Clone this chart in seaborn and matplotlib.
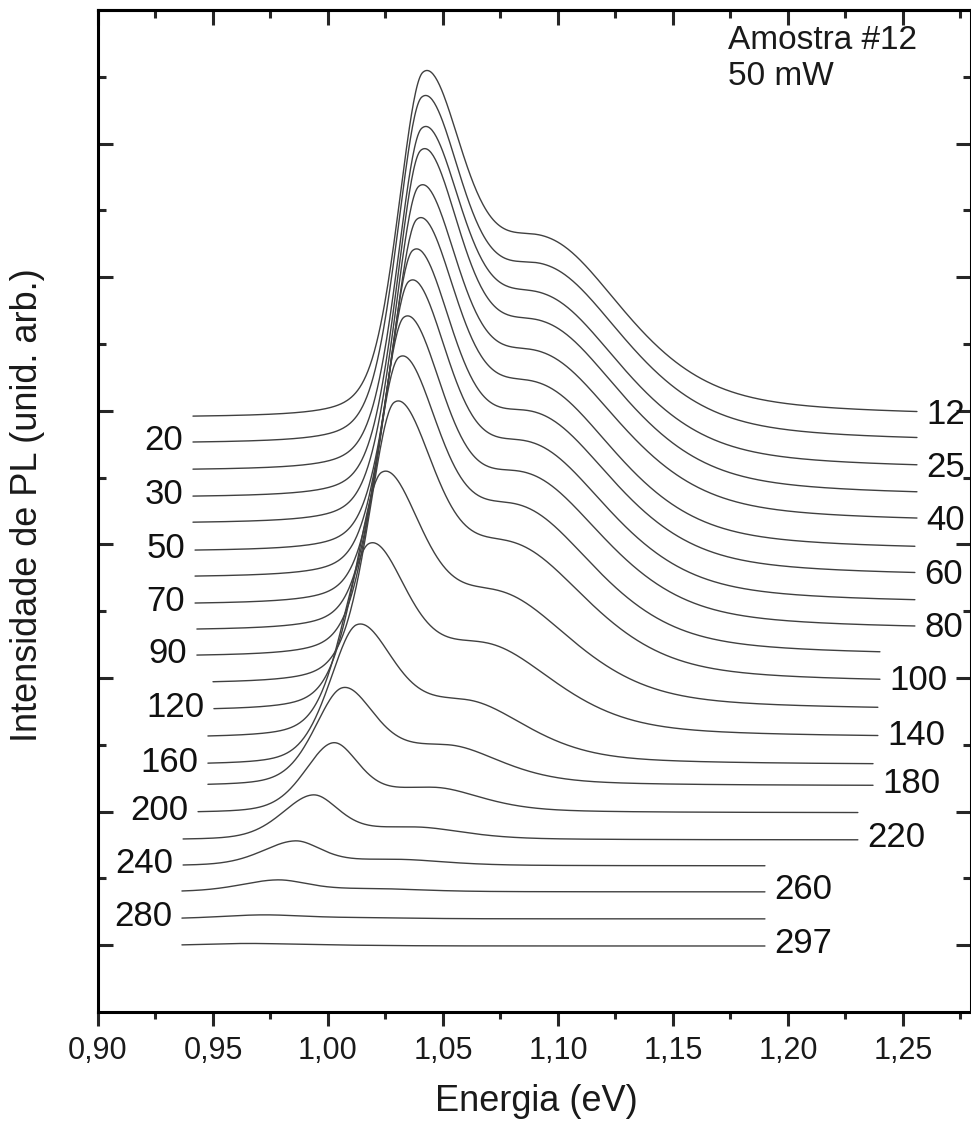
import numpy as np
import pandas as pd
import matplotlib
matplotlib.use('Agg')
import matplotlib.pyplot as plt
import seaborn as sns

# Temperatures (K) of the stacked PL spectra, top to bottom
temps = [12, 20, 25, 30, 40, 50, 60, 70, 80, 90, 100,
         120, 140, 160, 180, 200, 220, 240, 260, 280, 297]

# Vertical offset of each spectrum (arb. units)
baseline = [4.449, 4.255, 4.052, 3.850, 3.655, 3.446, 3.251, 3.049, 2.854, 2.659, 2.457,
            2.255, 2.052, 1.850, 1.693, 1.491, 1.288, 1.094, 0.899, 0.697, 0.494]

# Energy range covered by each spectrum (eV)
e_start = [0.9413, 0.9413, 0.9413, 0.9413, 0.9413, 0.9422, 0.9422, 0.9422, 0.9430, 0.9430, 0.9500,
           0.9504, 0.9478, 0.9478, 0.9478, 0.9435, 0.9370, 0.9370, 0.9365, 0.9365, 0.9365]
e_end = [1.2561, 1.2561, 1.2561, 1.2561, 1.2561, 1.2552, 1.2552, 1.2552, 1.2552, 1.2400, 1.2400,
         1.2391, 1.2391, 1.2370, 1.2370, 1.2304, 1.2304, 1.1900, 1.1900, 1.1900, 1.1900]

# Main PL peak: position (eV), height above baseline, half widths (eV)
peak_e = [1.0412, 1.0407, 1.0407, 1.0403, 1.0394, 1.0386, 1.0368, 1.0351, 1.0329, 1.0307, 1.0287,
          1.0232, 1.0177, 1.0125, 1.0062, 1.0020, 0.9933, 0.9856, 0.9778, 0.9713, 0.9640]
peak_h = [2.584, 2.592, 2.562, 2.599, 2.524, 2.487, 2.449, 2.419, 2.345, 2.240, 2.105,
          1.783, 1.453, 1.049, 0.734, 0.524, 0.337, 0.187, 0.090, 0.030, 0.019]
peak_wl = [0.0128, 0.0128, 0.0128, 0.0128, 0.0128, 0.0128, 0.0128, 0.0128, 0.0128, 0.0128, 0.0130,
           0.0133, 0.0135, 0.0140, 0.0142, 0.0145, 0.0160, 0.0170, 0.0190, 0.0220, 0.0260]
peak_wr = [0.020, 0.020, 0.020, 0.020, 0.020, 0.020, 0.020, 0.020, 0.020, 0.020, 0.020,
           0.020, 0.019, 0.018, 0.016, 0.013, 0.013, 0.013, 0.015, 0.020, 0.025]

# High-energy shoulder: position (eV), height, right half width (eV)
shoulder_e = [1.094, 1.094, 1.093, 1.093, 1.092, 1.091, 1.090, 1.088, 1.086, 1.083, 1.080,
              1.074, 1.068, 1.060, 1.052, 1.046, 1.038, 1.030, 1.020, 1.015, 1.008]
shoulder_h = [1.258, 1.243, 1.228, 1.221, 1.191, 1.169, 1.146, 1.124, 1.094, 1.049, 0.974,
              0.824, 0.659, 0.449, 0.285, 0.180, 0.090, 0.045, 0.022, 0.008, 0.004]
shoulder_wr = [0.042, 0.042, 0.042, 0.042, 0.042, 0.041, 0.041, 0.041, 0.041, 0.040, 0.040,
               0.039, 0.037, 0.032, 0.028, 0.025, 0.025, 0.025, 0.025, 0.025, 0.025]
shoulder_wl = 0.035

label_side = ['R', 'L'] * 10 + ['R']

xticks = [0.90, 0.95, 1.00, 1.05, 1.10, 1.15, 1.20, 1.25]
xticklabels = ['0,90', '0,95', '1,00', '1,05', '1,10', '1,15', '1,20', '1,25']


def band(e, c, wl, wr, eta_l, eta_r):
    left = e < c
    w = np.where(left, wl, wr)
    eta = np.where(left, eta_l, eta_r)
    r = (e - c) / w
    return (1 - eta) * np.exp(-np.log(2) * r ** 2) + eta / (1 + r ** 2)


# Build the long table of spectra
frames = []
for i, t in enumerate(temps):
    e = np.linspace(e_start[i], e_end[i], 700)
    sh = shoulder_h[i] * band(e, shoulder_e[i], shoulder_wl, shoulder_wr[i], 0.0, 0.5)
    sh_at_peak = shoulder_h[i] * band(np.array([peak_e[i]]), shoulder_e[i], shoulder_wl,
                                      shoulder_wr[i], 0.0, 0.5)[0]
    main = (peak_h[i] - sh_at_peak) * band(e, peak_e[i], peak_wl[i], peak_wr[i], 0.3, 0.3)
    frames.append(pd.DataFrame({'Energia': e, 'PL': baseline[i] + main + sh, 'T': t}))
spectra = pd.concat(frames, ignore_index=True)

sns.set_style('ticks')
plt.rcParams['font.family'] = ['Liberation Sans', 'DejaVu Sans']

fig = plt.figure(figsize=(9.71, 11.26), dpi=100)
ax = fig.add_axes([0.10093, 0.10124, 0.89907, 0.88988])

sns.lineplot(data=spectra, x='Energia', y='PL', units='T', estimator=None,
             color='#404040', linewidth=1.0, ax=ax, legend=False)

# Temperature labels, alternating sides
for i, t in enumerate(temps):
    if label_side[i] == 'L':
        ax.annotate(str(t), xy=(e_start[i], baseline[i]), xytext=(-7, 2),
                    textcoords='offset points', ha='right', va='center',
                    fontsize=25, color='#111111')
    else:
        ax.annotate(str(t), xy=(e_end[i], baseline[i]), xytext=(7, 2),
                    textcoords='offset points', ha='left', va='center',
                    fontsize=25, color='#111111')

ax.text(0.7216, 0.985, 'Amostra #12\n50 mW', transform=ax.transAxes, ha='left', va='top',
        fontsize=24, linespacing=1.22, color='#1a1a1a')

ax.set_xlim(0.90, 1.2796)
ax.set_ylim(0, 7.5)

ax.set_xticks(xticks)
ax.set_xticklabels(xticklabels)
ax.set_xticks(np.arange(0.925, 1.28, 0.05), minor=True)
ax.set_yticks(np.arange(0.5, 7.0, 1.0))
ax.set_yticks(np.arange(1.0, 7.5, 1.0), minor=True)
ax.set_yticklabels([])

for s in ax.spines.values():
    s.set_linewidth(2.2)
    s.set_color('black')

ax.tick_params(axis='x', which='both', direction='out', bottom=True, top=False,
               width=2.2, labelsize=22, pad=7, labelcolor='#1a1a1a')
ax.tick_params(axis='x', which='major', length=10)
ax.tick_params(axis='x', which='minor', length=5)
ax.tick_params(axis='y', which='both', direction='in', left=True, right=True, width=2.2)
ax.tick_params(axis='y', which='major', length=11)
ax.tick_params(axis='y', which='minor', length=6)

top = ax.secondary_xaxis('top')
top.set_xticks(xticks)
top.set_xticks(np.arange(0.925, 1.28, 0.05), minor=True)
top.tick_params(axis='x', which='both', direction='in', width=2.2, labeltop=False)
top.tick_params(axis='x', which='major', length=11)
top.tick_params(axis='x', which='minor', length=6)
top.spines['top'].set_linewidth(2.2)

ax.set_xlabel('Energia (eV)', fontsize=26, color='#1a1a1a')
ax.set_ylabel('Intensidade de PL (unid. arb.)', fontsize=26, color='#1a1a1a')
ax.xaxis.set_label_coords(0.502, -0.072)
ax.yaxis.set_label_coords(-0.061, 0.506)

fig.savefig('out.png', dpi=100)
